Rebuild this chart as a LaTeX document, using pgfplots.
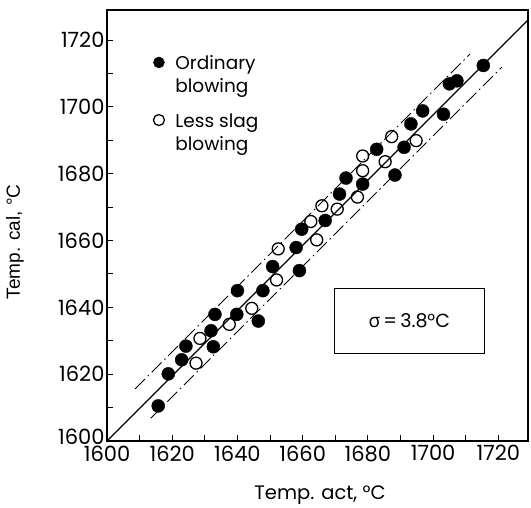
\documentclass[border=0pt]{standalone}
\usepackage{fontspec}
\setmainfont{Poppins}
\newfontfamily\symfont{Open Sans}
\newfontfamily\arialfont{Liberation Sans}
\usepackage{pgfplots}
\pgfplotsset{compat=1.18}
\begin{document}
\begin{tikzpicture}
\useasboundingbox (-107pt,-67pt) rectangle (424pt,441pt);
\begin{axis}[
  at={(0pt,0pt)}, anchor=south west,
  scale only axis, width=421pt, height=431pt,
  xmin=1600, xmax=1729.1, ymin=1600, ymax=1729,
  xtick={1600,1620,...,1720}, ytick={1600,1620,...,1720},
  yticklabels={\raisebox{9pt}{1600},1620,1640,1660,1680,1700,1720},
  minor xtick={1610,1630,...,1710}, minor ytick={1610,1630,...,1710},
  tick align=inside, tick pos=left,
  major tick length=6pt, minor tick length=6pt,
  tick style={black, line width=1pt},
  axis line style={line width=1.3pt},
  /pgf/number format/1000 sep={}, /pgf/number format/assume math mode=true,
  tick label style={font=\fontsize{21}{21}\selectfont},
  yticklabel style={xshift=1pt},
  xticklabel style={yshift=-1pt},
  xlabel={Temp. act, °C}, ylabel={\arialfont Temp. cal, °C},
  every axis x label/.style={at={(axis description cs:0.506,-0.125)}, anchor=center, font=\fontsize{19.5}{19.5}\selectfont},
  every axis y label/.style={at={(axis description cs:-0.2185,0.462)}, anchor=center, rotate=90, font=\fontsize{19}{19}\selectfont},
  legend style={draw=none, fill=none, at={(axis description cs:0.095,0.908)}, anchor=north west,
    font=\fontsize{18.5}{23}\selectfont, row sep=36pt, column sep=9pt, cells={anchor=base west}},
  legend image code/.code={\path (0pt,0pt); \draw[#1, mark size=5.5pt] plot coordinates {(0.3cm,7.5pt)};},
]
\addplot[only marks, mark=*, mark size=6.5pt, black] coordinates {
(1615.7,1610.5) (1618.8,1620.1) (1622.9,1624.3) (1624.2,1628.4) (1632.6,1628.2)
(1631.9,1633.0) (1633.1,1637.9) (1639.8,1637.9) (1640.0,1645.0) (1646.4,1635.9)
(1647.8,1645.0) (1650.8,1652.2) (1659.0,1651.0) (1658.0,1657.9) (1659.7,1663.4)
(1666.9,1666.0) (1671.3,1673.9) (1673.3,1678.7) (1678.4,1676.9) (1688.3,1679.6)
(1682.7,1687.3) (1691.1,1687.9) (1693.2,1694.9) (1696.8,1698.8) (1703.2,1697.8)
(1705.0,1706.9) (1707.3,1707.8) (1715.4,1712.4)
};
\addlegendentry{\begin{tabular}[t]{@{}l@{}}Ordinary\\blowing\end{tabular}}
\addplot[only marks, mark=o, mark size=6pt, mark options={fill=white, line width=1.3pt}, black] coordinates {
(1627.3,1623.3) (1628.5,1630.7) (1637.5,1634.9) (1644.4,1639.7) (1652.0,1648.2)
(1652.5,1657.5) (1664.3,1660.2) (1662.5,1665.7) (1665.9,1670.4) (1670.6,1669.4)
(1676.8,1673.0) (1678.4,1680.9) (1678.4,1685.3) (1685.3,1683.6) (1687.3,1691.1)
(1694.8,1689.9)
};
\addlegendentry{\begin{tabular}[t]{@{}l@{}}Less slag\\blowing\end{tabular}}
\addplot[black, line width=1.3pt, forget plot] coordinates {(1600,1600) (1729.1,1726)};
\addplot[black, line width=0.9pt, dash pattern=on 14pt off 4pt on 1.5pt off 4pt, forget plot] coordinates {(1608.6,1615.6) (1711.3,1715.8)};
\addplot[black, line width=0.9pt, dash pattern=on 14pt off 4pt on 1.5pt off 4pt, forget plot] coordinates {(1613.4,1606.8) (1721.1,1711.9)};
\node[draw, line width=1pt, minimum width=150pt, minimum height=65pt, font=\fontsize{19}{19}\selectfont] at (axis cs:1692.7,1636) {{\symfont σ}\,=\,3.8°C};
\end{axis}
\end{tikzpicture}
\end{document}
